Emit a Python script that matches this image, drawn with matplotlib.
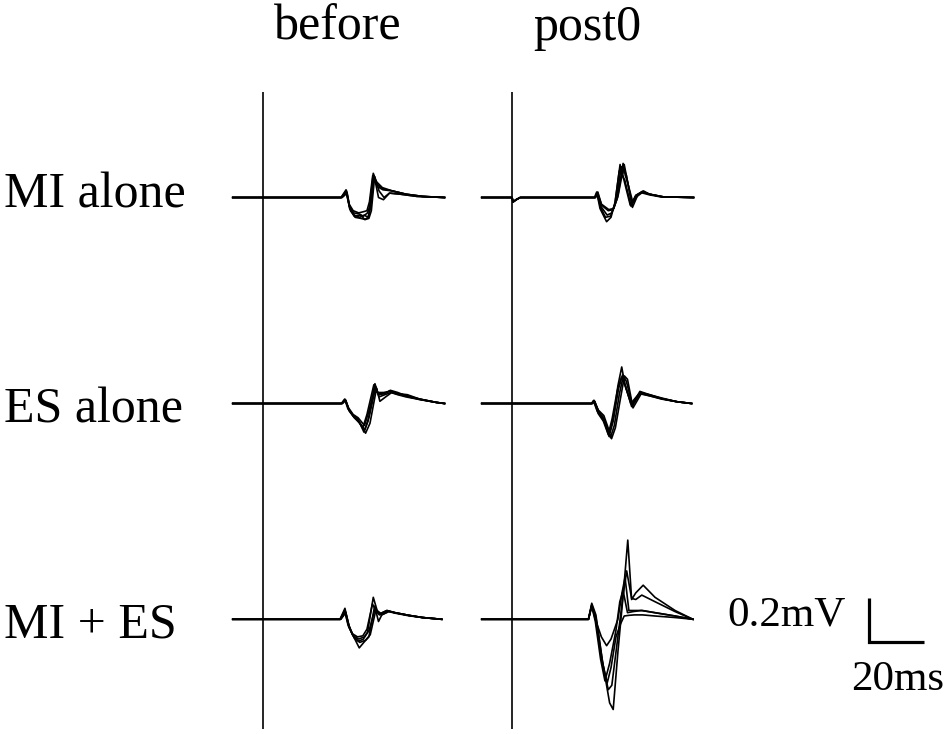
import numpy as np
import matplotlib
matplotlib.use("Agg")
import matplotlib.pyplot as plt

# ---------------- data (time in ms after stimulus, amplitude in mV) ----------------
columns = ["before", "post0"]
rows = ["MI alone", "ES alone", "MI + ES"]
scale_mv = 0.2
scale_ms = 20

# MI alone, before
mi_before_t = [
    [-11, 28.4, 30.2, 31.4, 33.0, 35.0, 36.5, 38.0, 38.8, 40.1, 41.5, 43.5, 47, 52, 58, 66],
    [-11, 28.5, 30.3, 31.5, 33.2, 35.2, 36.8, 38.2, 39.0, 40.2, 41.6, 43.6, 47, 52, 58, 66],
    [-11, 28.6, 30.4, 31.6, 33.2, 35.5, 37.0, 38.3, 39.2, 40.4, 42.0, 43.8, 46, 50, 56, 66],
    [-11, 28.8, 30.6, 31.8, 33.5, 35.6, 37.2, 38.5, 39.4, 40.6, 42.2, 44.0, 46, 50, 56, 66],
    [-11, 28.4, 30.2, 31.3, 32.8, 34.8, 36.4, 37.8, 38.7, 39.9, 41.4, 43.4, 47, 52, 58, 66],
]
mi_before_v = [
    [0, 0, 0.030, -0.040, -0.070, -0.075, -0.085, -0.070, -0.040, 0.110, 0.060, 0.040, 0.030, 0.015, 0.005, 0],
    [0, 0, 0.025, -0.050, -0.080, -0.090, -0.080, -0.090, -0.050, 0.090, 0.050, 0.035, 0.030, 0.015, 0.005, 0],
    [0, 0, 0.030, -0.050, -0.085, -0.080, -0.100, -0.090, -0.030, 0.100, 0.000, -0.010, 0.020, 0.015, 0.005, 0],
    [0, 0, 0.020, -0.060, -0.090, -0.095, -0.100, -0.095, -0.060, 0.095, 0.030, 0.000, 0.020, 0.015, 0.005, 0],
    [0, 0, 0.035, -0.030, -0.060, -0.070, -0.065, -0.060, -0.020, 0.100, 0.070, 0.045, 0.030, 0.015, 0.005, 0],
]

# MI alone, post0
mi_post_t = [
    [-11, 0, 0.4, 1.5, 3, 30.0, 30.8, 32.0, 34.4, 36.0, 37.5, 39.3, 40.0, 41.0, 43.3, 45.0, 47.2, 50, 54.5, 66],
    [-11, 0, 0.4, 1.5, 3, 30.2, 31.0, 32.3, 34.6, 36.3, 38.0, 39.6, 40.3, 40.8, 43.6, 45.2, 47.4, 50, 55, 66],
    [-11, 0, 0.4, 1.5, 3, 30.4, 31.2, 32.6, 35.0, 36.8, 38.4, 40.4, 41.0, 41.6, 43.8, 45.5, 47.6, 50, 55, 66],
    [-11, 0, 0.4, 1.5, 3, 30.1, 30.9, 32.2, 34.0, 35.8, 37.4, 39.0, 39.8, 40.5, 43.0, 45.0, 47.0, 50, 54, 66],
    [-11, 0, 0.4, 1.5, 3, 30.3, 31.1, 32.5, 35.2, 37.0, 38.6, 40.6, 41.2, 42.0, 44.0, 45.8, 47.8, 50, 55, 66],
]
mi_post_v = [
    [0, 0, -0.020, -0.010, 0, 0, 0.025, -0.050, -0.110, -0.090, -0.020, 0.150, 0.100, 0.080, -0.040, 0.010, 0.025, 0.015, 0.003, 0],
    [0, 0, -0.020, -0.010, 0, 0, 0.020, -0.040, -0.080, -0.070, -0.010, 0.130, 0.110, 0.150, -0.030, 0.010, 0.028, 0.015, 0.003, 0],
    [0, 0, -0.020, -0.010, 0, 0, 0.025, -0.035, -0.060, -0.055, 0.000, 0.155, 0.120, 0.100, -0.045, 0.005, 0.025, 0.015, 0.003, 0],
    [0, 0, -0.020, -0.010, 0, 0, 0.020, -0.045, -0.090, -0.085, -0.030, 0.120, 0.140, 0.090, -0.035, 0.008, 0.022, 0.012, 0.003, 0],
    [0, 0, -0.020, -0.010, 0, 0, 0.022, -0.030, -0.055, -0.050, 0.010, 0.140, 0.100, 0.070, -0.025, 0.012, 0.030, 0.015, 0.003, 0],
]

# ES alone, before
es_before_t = [
    [-11, 28.6, 29.8, 31.0, 32.7, 34.5, 36.7, 38.2, 40.7, 41.8, 44.0, 46.2, 49, 52.3, 57, 63, 66],
    [-11, 28.8, 30.0, 31.3, 33.0, 34.8, 37.0, 38.6, 41.0, 42.2, 44.3, 46.5, 49, 52.0, 57, 63, 66],
    [-11, 28.5, 29.7, 30.9, 32.5, 34.3, 36.3, 37.8, 40.3, 41.5, 43.8, 46.0, 49, 52.5, 57, 63, 66],
    [-11, 28.9, 30.1, 31.4, 33.2, 35.2, 37.3, 38.9, 41.3, 42.5, 44.6, 46.8, 49, 52.0, 57, 63, 66],
    [-11, 28.6, 29.9, 31.1, 32.8, 34.6, 36.9, 38.4, 40.8, 42.0, 44.2, 46.3, 49, 53.0, 57, 63, 66],
]
es_before_v = [
    [0, 0, 0.018, -0.020, -0.055, -0.070, -0.130, -0.080, 0.090, 0.045, 0.045, 0.057, 0.045, 0.036, 0.020, 0.005, 0],
    [0, 0, 0.015, -0.030, -0.060, -0.080, -0.120, -0.060, 0.075, 0.030, 0.040, 0.050, 0.040, 0.030, 0.018, 0.005, 0],
    [0, 0, 0.020, -0.025, -0.050, -0.075, -0.110, -0.050, 0.085, 0.050, 0.050, 0.055, 0.045, 0.040, 0.020, 0.005, 0],
    [0, 0, 0.015, -0.035, -0.065, -0.090, -0.135, -0.090, 0.070, 0.010, 0.030, 0.050, 0.042, 0.034, 0.018, 0.005, 0],
    [0, 0, 0.018, -0.020, -0.050, -0.065, -0.100, -0.040, 0.080, 0.040, 0.045, 0.060, 0.050, 0.030, 0.020, 0.005, 0],
]

# ES alone, post0
es_post_t = [
    [-11, 0, 29.0, 29.8, 31.3, 33.2, 35.3, 36.8, 38.5, 39.9, 41.0, 43.5, 46.5, 50, 54.4, 60, 65.3],
    [-11, 0, 29.2, 30.0, 31.6, 33.5, 35.8, 37.2, 39.0, 40.5, 41.6, 43.8, 46.8, 50, 54.4, 60, 65.3],
    [-11, 0, 28.9, 29.6, 31.0, 33.0, 35.0, 36.4, 38.3, 39.8, 41.2, 43.2, 46.2, 50, 54.4, 60, 65.3],
    [-11, 0, 29.3, 30.1, 31.8, 33.8, 36.2, 37.6, 39.4, 40.9, 42.0, 44.0, 47.0, 50, 54.4, 60, 65.3],
    [-11, 0, 29.0, 29.8, 31.4, 33.4, 35.5, 37.0, 38.8, 40.2, 41.4, 43.6, 46.6, 50, 54.4, 60, 65.3],
]
es_post_v = [
    [0, 0, 0, 0.014, -0.045, -0.080, -0.150, -0.080, 0.080, 0.166, 0.090, -0.014, 0.055, 0.040, 0.023, 0.008, 0],
    [0, 0, 0, 0.010, -0.040, -0.070, -0.155, -0.100, 0.040, 0.127, 0.100, -0.010, 0.050, 0.038, 0.022, 0.008, 0],
    [0, 0, 0, 0.012, -0.035, -0.060, -0.140, -0.070, 0.060, 0.120, 0.080, 0.000, 0.045, 0.035, 0.020, 0.008, 0],
    [0, 0, 0, 0.010, -0.050, -0.085, -0.160, -0.110, 0.020, 0.125, 0.110, -0.020, 0.045, 0.035, 0.022, 0.008, 0],
    [0, 0, 0, 0.014, -0.030, -0.055, -0.130, -0.060, 0.070, 0.130, 0.070, -0.005, 0.050, 0.040, 0.025, 0.008, 0],
]

# MI + ES, before
mies_before_t = [
    [-11, 28.0, 29.8, 31.0, 32.5, 34.7, 36.5, 38.0, 40.1, 41.5, 42.8, 45.1, 48, 53, 58, 65],
    [-11, 28.2, 30.0, 31.3, 33.0, 35.0, 37.0, 38.5, 40.6, 41.8, 43.0, 45.4, 48, 53, 58, 65],
    [-11, 28.1, 29.9, 31.2, 32.8, 34.8, 36.8, 38.6, 40.8, 42.0, 43.2, 45.6, 48, 53, 58, 65],
    [-11, 28.3, 30.1, 31.5, 33.2, 35.2, 37.3, 39.0, 41.0, 42.3, 43.5, 45.8, 48, 53, 58, 65],
    [-11, 28.0, 29.7, 30.9, 32.4, 34.4, 36.3, 37.8, 39.8, 41.2, 42.6, 45.0, 48, 53, 58, 65],
]
mies_before_v = [
    [0, 0, 0.050, -0.020, -0.070, -0.100, -0.090, -0.060, 0.100, 0.040, 0.027, 0.040, 0.030, 0.018, 0.008, 0],
    [0, 0, 0.035, -0.030, -0.080, -0.130, -0.100, -0.080, 0.060, 0.030, 0.025, 0.038, 0.030, 0.018, 0.008, 0],
    [0, 0, 0.030, -0.035, -0.075, -0.090, -0.080, -0.050, 0.050, -0.010, 0.020, 0.036, 0.030, 0.018, 0.008, 0],
    [0, 0, 0.030, -0.040, -0.085, -0.105, -0.095, -0.070, 0.040, 0.020, 0.022, 0.035, 0.028, 0.016, 0.008, 0],
    [0, 0, 0.040, -0.025, -0.065, -0.080, -0.075, -0.045, 0.070, 0.035, 0.025, 0.040, 0.030, 0.018, 0.008, 0],
]

# MI + ES, post0
mies_post_t = [
    [-11, 0, 27.8, 29.0, 30.5, 33.0, 35.5, 36.8, 38.5, 40.5, 42.1, 43.5, 45.0, 47.7, 52, 59.3, 65.8],
    [-11, 0, 27.8, 29.0, 30.5, 33.0, 35.0, 36.3, 38.3, 40.3, 41.7, 43.5, 45.0, 47.2, 52, 59.3, 65.8],
    [-11, 0, 27.8, 29.0, 30.3, 32.5, 34.4, 36.0, 38.5, 40.0, 41.1, 42.5, 44.5, 47.5, 52, 59.3, 65.8],
    [-11, 0, 27.8, 29.0, 30.3, 32.2, 33.8, 35.5, 37.8, 39.2, 40.4, 42.0, 44.0, 47.0, 52, 59.3, 65.8],
    [-11, 0, 27.8, 29.0, 30.4, 32.6, 34.6, 36.0, 37.8, 39.5, 40.8, 42.5, 44.5, 47.5, 52, 59.3, 65.8],
]
mies_post_v = [
    [0, 0, 0, 0.073, 0.020, -0.200, -0.380, -0.410, -0.150, 0.120, 0.360, 0.090, 0.120, 0.155, 0.100, 0.040, 0],
    [0, 0, 0, 0.065, 0.010, -0.200, -0.320, -0.300, -0.100, 0.100, 0.220, 0.095, 0.090, 0.110, 0.080, 0.035, 0],
    [0, 0, 0, 0.060, 0.000, -0.080, -0.120, -0.090, 0.000, 0.120, 0.190, 0.040, 0.040, 0.040, 0.030, 0.015, 0],
    [0, 0, 0, 0.060, -0.010, -0.180, -0.280, -0.200, -0.050, 0.080, 0.130, 0.030, 0.035, 0.040, 0.030, 0.015, 0],
    [0, 0, 0, 0.065, 0.000, -0.180, -0.290, -0.220, -0.080, -0.020, 0.015, 0.018, 0.020, 0.020, 0.015, 0.008, 0],
]

panel_t = [[mi_before_t, mi_post_t], [es_before_t, es_post_t], [mies_before_t, mies_post_t]]
panel_v = [[mi_before_v, mi_post_v], [es_before_v, es_post_v], [mies_before_v, mies_post_v]]

# ---------------- layout ----------------
W, H = 950, 734
px_per_ms = 2.75
px_per_mv = 220.0
stim_px = [263, 512]          # x pixel of stimulus in each column
base_px = [197.5, 403.5, 619.3]  # y pixel of the baseline in each row

fig = plt.figure(figsize=(W / 100, H / 100), dpi=100)
ax = fig.add_axes([0, 0, 1, 1])
ax.set_xlim(-stim_px[0] / px_per_ms, (W - stim_px[0]) / px_per_ms)
ax.set_ylim(-(H - base_px[0]) / px_per_mv, base_px[0] / px_per_mv)
ax.axis("off")

col_off = [(p - stim_px[0]) / px_per_ms for p in stim_px]
row_off = [-(p - base_px[0]) / px_per_mv for p in base_px]

for r in range(3):
    for c in range(2):
        for t, v in zip(panel_t[r][c], panel_v[r][c]):
            ax.plot(np.array(t) + col_off[c], np.array(v) + row_off[r],
                    color="black", lw=1.2, solid_joinstyle="round")

# stimulus lines
y_top = -(92 - base_px[0]) / px_per_mv
y_bot = -(729 - base_px[0]) / px_per_mv
ax.vlines(col_off, y_bot, y_top, color="black", lw=1.2)

# scale bar
sx = (869 - stim_px[0]) / px_per_ms
sy = -(642 - base_px[0]) / px_per_mv
ax.plot([sx, sx, sx + scale_ms], [sy + scale_mv, sy, sy], color="black", lw=2.3,
        solid_joinstyle="miter", solid_capstyle="butt")

font = "Liberation Serif"
def ftext(xp, yp, s, size, ha="left"):
    fig.text(xp / W, 1 - yp / H, s, fontsize=size, family=font, ha=ha, va="baseline")

ftext(338, 40, columns[0], 36, ha="center")
ftext(587, 40, columns[1], 36, ha="center")
ftext(4, 207, rows[0], 36)
ftext(4, 422, rows[1], 36)
ftext(4, 637, rows[2], 36)
ftext(727, 625, "%.1fmV" % scale_mv, 31)
ftext(851, 690, "%dms" % scale_ms, 31)

fig.savefig("out.png", dpi=100)
